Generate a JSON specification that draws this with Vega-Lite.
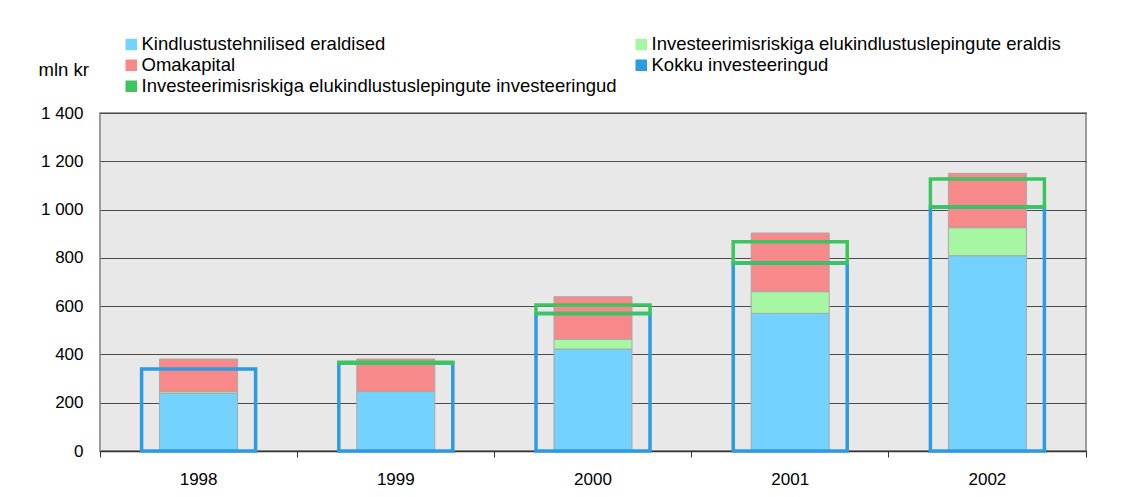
{
  "$schema": "https://vega.github.io/schema/vega-lite/v6.json",
  "width": 986,
  "height": 338,
  "autosize": {"type": "none"},
  "padding": {"left": 100, "top": 113, "right": 44, "bottom": 46},
  "background": "white",
  "config": {
    "font": "Liberation Sans",
    "view": {"fill": "#E8E8E8", "stroke": "#9c9c9c", "strokeWidth": 2},
    "legend": {
      "orient": "none",
      "legendX": 22,
      "legendY": -78,
      "direction": "horizontal",
      "columns": 2,
      "symbolType": "square",
      "symbolSize": 100,
      "labelFontSize": 18.5,
      "labelColor": "black",
      "labelLimit": 1000,
      "labelOffset": 1,
      "columnPadding": 15,
      "rowPadding": 2,
      "padding": 0
    }
  },
  "datasets": {
    "stackorder": [
      {"series": "Kindlustustehnilised eraldised", "rank": 1},
      {"series": "Investeerimisriskiga elukindlustuslepingute eraldis", "rank": 2},
      {"series": "Omakapital", "rank": 3}
    ],
    "main": [
      {"year": "1998", "series": "Kindlustustehnilised eraldised", "value": 239},
      {"year": "1998", "series": "Investeerimisriskiga elukindlustuslepingute eraldis", "value": 7},
      {"year": "1998", "series": "Omakapital", "value": 135},
      {"year": "1998", "series": "Kokku investeeringud", "value": 340},
      {"year": "1999", "series": "Kindlustustehnilised eraldised", "value": 246},
      {"year": "1999", "series": "Investeerimisriskiga elukindlustuslepingute eraldis", "value": 1},
      {"year": "1999", "series": "Omakapital", "value": 134},
      {"year": "1999", "series": "Kokku investeeringud", "value": 364},
      {"year": "1999", "series": "Investeerimisriskiga elukindlustuslepingute investeeringud", "value": 4},
      {"year": "2000", "series": "Kindlustustehnilised eraldised", "value": 422},
      {"year": "2000", "series": "Investeerimisriskiga elukindlustuslepingute eraldis", "value": 41},
      {"year": "2000", "series": "Omakapital", "value": 176},
      {"year": "2000", "series": "Kokku investeeringud", "value": 570},
      {"year": "2000", "series": "Investeerimisriskiga elukindlustuslepingute investeeringud", "value": 35},
      {"year": "2001", "series": "Kindlustustehnilised eraldised", "value": 570},
      {"year": "2001", "series": "Investeerimisriskiga elukindlustuslepingute eraldis", "value": 90},
      {"year": "2001", "series": "Omakapital", "value": 243},
      {"year": "2001", "series": "Kokku investeeringud", "value": 779},
      {"year": "2001", "series": "Investeerimisriskiga elukindlustuslepingute investeeringud", "value": 88},
      {"year": "2002", "series": "Kindlustustehnilised eraldised", "value": 809},
      {"year": "2002", "series": "Investeerimisriskiga elukindlustuslepingute eraldis", "value": 116},
      {"year": "2002", "series": "Omakapital", "value": 225},
      {"year": "2002", "series": "Kokku investeeringud", "value": 1011},
      {"year": "2002", "series": "Investeerimisriskiga elukindlustuslepingute investeeringud", "value": 116}
    ]
  },
  "data": {"name": "main"},
  "encoding": {
    "x": {
      "field": "year",
      "type": "ordinal",
      "scale": {"paddingInner": 0, "paddingOuter": 0},
      "axis": {
        "title": null,
        "labelAngle": 0,
        "labelFontSize": 17,
        "labelColor": "black",
        "bandPosition": 1,
        "tickExtra": true,
        "tickSize": 6,
        "tickColor": "#333333",
        "tickWidth": 1,
        "domainColor": "#333333",
        "domainWidth": 1.5,
        "labelPadding": 14,
        "grid": false
      }
    }
  },
  "layer": [
    {
      "transform": [
        {"filter": {"field": "series", "oneOf": ["Kindlustustehnilised eraldised", "Investeerimisriskiga elukindlustuslepingute eraldis", "Omakapital"]}},
        {"lookup": "series", "from": {"data": {"name": "stackorder"}, "key": "series", "fields": ["rank"]}}
      ],
      "mark": {"type": "bar", "size": 78, "stroke": "#a8a8a8", "strokeWidth": 1},
      "encoding": {
        "y": {
          "field": "value",
          "type": "quantitative",
          "stack": "zero",
          "scale": {"domain": [0, 1400]},
          "axis": {
            "title": "mln kr",
            "titleAngle": 0,
            "titleAlign": "left",
            "titleBaseline": "alphabetic",
            "titleX": -62,
            "titleY": -38,
            "titleFontSize": 18.5,
            "titleFontWeight": "normal",
            "titleColor": "black",
            "domain": false,
            "ticks": false,
            "labelPadding": 17,
            "labelFontSize": 17,
            "labelColor": "black",
            "grid": true,
            "gridColor": "#4a4a4a",
            "gridWidth": 1,
            "values": [0, 200, 400, 600, 800, 1000, 1200, 1400],
            "labelExpr": "replace(format(datum.value, ','), ',', ' ')"
          }
        },
        "order": {"field": "rank", "type": "quantitative", "sort": "ascending"},
        "color": {
          "field": "series",
          "type": "nominal",
          "scale": {
            "domain": ["Kindlustustehnilised eraldised", "Investeerimisriskiga elukindlustuslepingute eraldis", "Omakapital", "Kokku investeeringud", "Investeerimisriskiga elukindlustuslepingute investeeringud"],
            "range": ["#73D2FE", "#A7F6A3", "#F8898A", "#2C9BE1", "#3CC45E"]
          },
          "legend": {
            "title": null,
            "encode": {
              "symbols": {
                "fill": {"value": {"expr": "(datum.value == 'Kokku investeeringud' || datum.value == 'Investeerimisriskiga elukindlustuslepingute investeeringud') ? 'white' : scale('color', datum.value)"}},
                "stroke": {"value": {"expr": "(datum.value == 'Kokku investeeringud' || datum.value == 'Investeerimisriskiga elukindlustuslepingute investeeringud') ? scale('color', datum.value) : '#a0a0a0'"}},
                "strokeWidth": {"value": {"expr": "(datum.value == 'Kokku investeeringud' || datum.value == 'Investeerimisriskiga elukindlustuslepingute investeeringud') ? 3 : 1"}}
              }
            }
          }
        }
      }
    },
    {
      "transform": [{"filter": {"field": "series", "oneOf": ["Kokku investeeringud", "Investeerimisriskiga elukindlustuslepingute investeeringud"]}}],
      "mark": {"type": "bar", "size": 114, "filled": false, "strokeWidth": 3.5},
      "encoding": {
        "y": {"field": "value", "type": "quantitative", "stack": "zero"},
        "color": {"field": "series", "type": "nominal"}
      }
    }
  ]
}
